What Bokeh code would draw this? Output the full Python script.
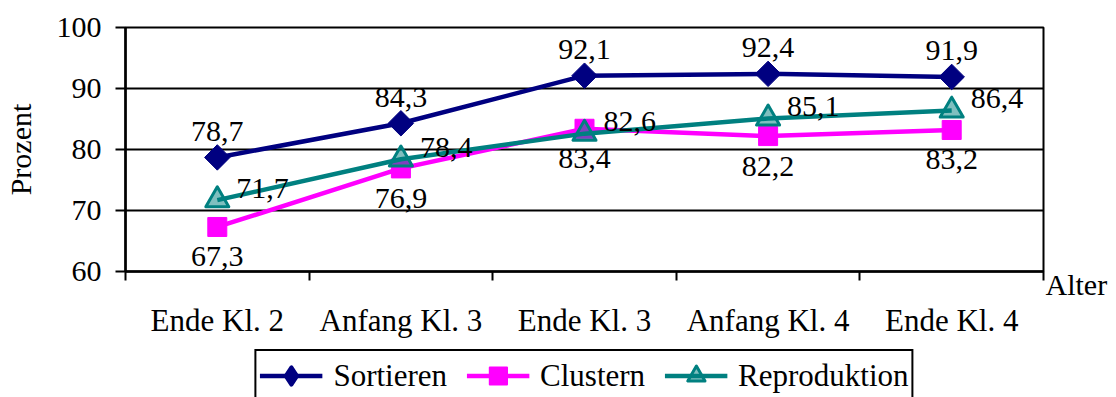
from bokeh.plotting import figure
from bokeh.layouts import column
from bokeh.models import (ColumnDataSource, Range1d, FixedTicker, Legend, LegendItem, LinearAxis)
from bokeh.core.properties import value
from bokeh.embed import file_html
from bokeh.resources import INLINE
import numpy as np

categories = ["Ende Kl. 2", "Anfang Kl. 3", "Ende Kl. 3", "Anfang Kl. 4", "Ende Kl. 4"]
sortieren = [78.7, 84.3, 92.1, 92.4, 91.9]
clustern = [67.3, 76.9, 83.4, 82.2, 83.2]
reproduktion = [71.7, 78.4, 82.6, 85.1, 86.4]
series_names = ["Sortieren", "Clustern", "Reproduktion"]
y_ticks = [60, 70, 80, 90, 100]

FONT = "Liberation Serif"
FS = "30px"
NAVY = "#000080"
MAGENTA = "#FF00FF"
TEAL = "#008080"

xs = list(range(1, len(categories) + 1))

BL, BR = 124, 73

p = figure(width=1116, height=340, output_backend="svg", toolbar_location=None,
           x_range=Range1d(0.5, len(categories) + 0.5), y_range=Range1d(60, 100),
           min_border_left=BL, min_border_right=BR, min_border_top=27, min_border_bottom=67)
p.background_fill_color = "white"
p.border_fill_color = "white"
p.outline_line_color = "black"
p.outline_line_width = 2

p.xgrid.visible = False
p.ygrid.grid_line_color = "black"
p.ygrid.grid_line_width = 2
p.ygrid.ticker = FixedTicker(ticks=y_ticks)

# x axis
p.xaxis.ticker = FixedTicker(ticks=xs, minor_ticks=[x - 0.5 for x in xs] + [xs[-1] + 0.5])
p.xaxis.major_label_overrides = {x: c for x, c in zip(xs, categories)}
p.xaxis.major_tick_out = 0
p.xaxis.major_tick_in = 0
p.xaxis.minor_tick_out = 9
p.xaxis.minor_tick_in = 0
p.xaxis.minor_tick_line_color = "black"
p.xaxis.minor_tick_line_width = 2
p.xaxis.axis_line_width = 2.5
p.xaxis.axis_line_color = "black"
p.xaxis.major_label_standoff = 22
p.xaxis.major_label_text_font = FONT
p.xaxis.major_label_text_font_size = "31px"
p.xaxis.major_label_text_color = "black"

# y axis
p.yaxis.ticker = FixedTicker(ticks=y_ticks)
p.yaxis.major_tick_out = 10
p.yaxis.major_tick_in = 0
p.yaxis.major_tick_line_width = 2
p.yaxis.major_tick_line_color = "black"
p.yaxis.minor_tick_line_color = None
p.yaxis.axis_line_width = 2.5
p.yaxis.axis_line_color = "black"
p.yaxis.major_label_standoff = 14
p.yaxis.major_label_text_font = FONT
p.yaxis.major_label_text_font_size = FS
p.yaxis.major_label_text_color = "black"
p.yaxis.axis_label = "Prozent"
p.yaxis.axis_label_text_font = FONT
p.yaxis.axis_label_text_font_size = FS
p.yaxis.axis_label_text_font_style = "normal"
p.yaxis.axis_label_text_color = "black"
p.yaxis.axis_label_standoff = 17

# "Alter" label at the right end of the category axis
alter_axis = LinearAxis(ticker=FixedTicker(ticks=[60]), major_label_overrides={60: " \nAlter"},
                        axis_line_color=None, major_tick_line_color=None, major_tick_out=0,
                        major_tick_in=0, minor_tick_line_color=None, minor_tick_out=0,
                        major_label_standoff=2,
                        major_label_text_font=FONT, major_label_text_font_size=FS,
                        major_label_text_line_height=0.8,
                        major_label_text_color="black")
p.add_layout(alter_axis, "right")


def fmt(vals):
    return [f"{v:.1f}".replace(".", ",") for v in vals]


src_s = ColumnDataSource(dict(x=xs, y=sortieren, t=fmt(sortieren)))
src_c = ColumnDataSource(dict(x=xs, y=clustern, t=fmt(clustern)))
src_r = ColumnDataSource(dict(x=xs, y=reproduktion, t=fmt(reproduktion)))

styles = [
    dict(color=NAVY, marker="square", angle=np.pi / 4, size=18, fill_alpha=1.0, lw=1),
    dict(color=MAGENTA, marker="square", angle=0.0, size=19, fill_alpha=1.0, lw=1),
    dict(color=TEAL, marker="triangle", angle=0.0, size=23, fill_alpha=0.5, lw=3),
]
legend_styles = [
    dict(color=NAVY, marker="diamond", angle=0.0, size=18, fill_alpha=1.0, lw=4),
    dict(color=MAGENTA, marker="square", angle=0.0, size=18, fill_alpha=1.0, lw=2),
    dict(color=TEAL, marker="triangle", angle=0.0, size=18, fill_alpha=0.5, lw=3),
]


def draw(fig, src, st):
    ln = fig.line("x", "y", source=src, line_color=st["color"], line_width=4.5)
    mk = fig.scatter("x", "y", source=src, marker=st["marker"], angle=st["angle"],
                     size=st["size"], fill_color=st["color"], fill_alpha=st["fill_alpha"],
                     line_color=st["color"], line_width=st["lw"], line_join="round")
    return ln, mk


for src, st in zip([src_s, src_c, src_r], styles):
    draw(p, src, st)

common = dict(text="t", text_font=value(FONT), text_font_size=FS, text_color="black",
              text_baseline="middle")
p.text("x", "y", source=src_s, text_align="center", y_offset=-26, **common)
p.text("x", "y", source=src_c, text_align="center", y_offset=30, **common)
p.text("x", "y", source=src_r, text_align="left", x_offset=19, y_offset=-12, **common)

# legend strip below the chart (series drawn out of view, only their legend glyphs show)
q = figure(width=1116, height=57, output_backend="svg", toolbar_location=None,
           x_range=Range1d(-10, -9), y_range=Range1d(-10, -9),
           x_axis_type=None, y_axis_type=None,
           min_border_left=BL, min_border_right=BR, min_border_top=0, min_border_bottom=0)
q.outline_line_color = None
q.xgrid.visible = False
q.ygrid.visible = False
items = []
for name, src, st in zip(series_names, [src_s, src_c, src_r], legend_styles):
    ln, mk = draw(q, src, st)
    items.append(LegendItem(label=name, renderers=[ln, mk]))
legend = Legend(items=items, orientation="horizontal", location="top_center",
                glyph_width=63, glyph_height=43, label_height=43,
                label_standoff=11, spacing=19, padding=3, margin=9,
                label_text_font=FONT, label_text_font_size="31px", label_text_color="black",
                border_line_color="black", border_line_width=2, border_line_alpha=1,
                background_fill_color="white", background_fill_alpha=1)
q.add_layout(legend, "center")

open("out.html", "w").write(file_html(column(p, q, spacing=0), INLINE))
